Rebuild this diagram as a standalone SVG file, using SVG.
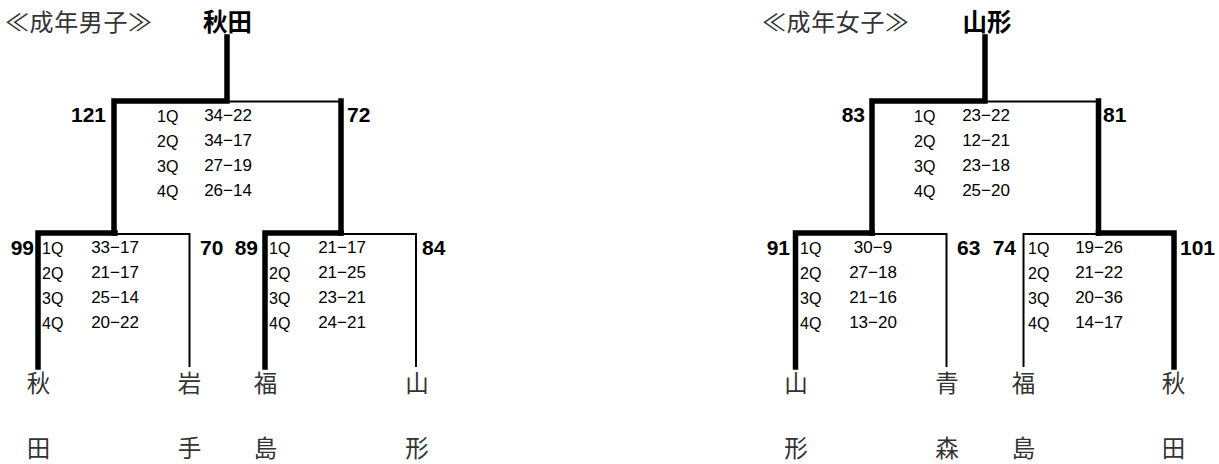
<svg xmlns="http://www.w3.org/2000/svg" width="1219" height="464" viewBox="0 0 1219 464">
<style>
.thick{stroke:#000;stroke-width:5.5;fill:none;stroke-linecap:square}
.thin{stroke:#000;stroke-width:2;fill:none}
.title{font-family:"Noto Sans CJK JP","Liberation Sans",sans-serif;font-size:24px;letter-spacing:0.6px;fill:#333}
.champ{font-family:"Noto Sans CJK JP","Liberation Sans",sans-serif;font-size:24.5px;font-weight:bold;fill:#000;text-anchor:middle}
.name{font-family:"Noto Sans CJK JP","Liberation Sans",sans-serif;font-size:23.5px;fill:#333;text-anchor:middle}
.pts{font-family:"Liberation Sans",Arial,sans-serif;font-size:21px;font-weight:bold;fill:#000}
.q{font-family:"Liberation Sans",Arial,sans-serif;font-size:16px;fill:#000}
.sc{font-family:"Liberation Sans",Arial,sans-serif;font-size:17px;fill:#000;text-anchor:middle}
.end{text-anchor:end}
</style>
<rect width="1219" height="464" fill="#fff"/>

<g id="connectors">
  <!-- men -->
  <path class="thin" d="M227 101.5 H341.5"/>
  <path class="thick" d="M227 37 V101 H114 V233 M341 101 V233"/>
  <path class="thin" d="M115 234 H189.5 V367"/>
  <path class="thick" d="M38 367 V233 H115 V233"/>
  <path class="thin" d="M342 234 H416 V367"/>
  <path class="thick" d="M265 367 V233 H341"/>
  <!-- women -->
  <path class="thin" d="M985 101.5 H1099"/>
  <path class="thick" d="M985 37 V101 H872 V233 M1098.5 101 V233"/>
  <path class="thin" d="M873 234 H946.5 V367"/>
  <path class="thick" d="M795.5 367 V233 H872"/>
  <path class="thin" d="M1098 234 H1023.5 V367"/>
  <path class="thick" d="M1174 367 V233 H1098.5"/>
</g>

<g id="men-title"><text class="title" x="5" y="31">≪成年男子≫</text></g>
<g id="men-champion"><text class="champ" x="227.5" y="31">秋田</text></g>

<g id="men-final">
  <text class="pts end" x="106" y="122">121</text>
  <text class="pts" x="347" y="122">72</text>
  <text class="q" x="157" y="122">1Q</text>
  <text class="q" x="157" y="147">2Q</text>
  <text class="q" x="157" y="172">3Q</text>
  <text class="q" x="157" y="197">4Q</text>
  <text class="sc" x="228" y="121">34−22</text>
  <text class="sc" x="228" y="146">34−17</text>
  <text class="sc" x="228" y="171">27−19</text>
  <text class="sc" x="228" y="196">26−14</text>
</g>

<g id="men-semi1">
  <text class="pts end" x="34" y="255">99</text>
  <text class="pts" x="200" y="255">70</text>
  <text class="q" x="42" y="254">1Q</text>
  <text class="q" x="42" y="279">2Q</text>
  <text class="q" x="42" y="304">3Q</text>
  <text class="q" x="42" y="329">4Q</text>
  <text class="sc" x="115" y="253">33−17</text>
  <text class="sc" x="115" y="278">21−17</text>
  <text class="sc" x="115" y="303">25−14</text>
  <text class="sc" x="115" y="328">20−22</text>
</g>

<g id="men-semi2">
  <text class="pts end" x="258" y="255">89</text>
  <text class="pts" x="422" y="255">84</text>
  <text class="q" x="269" y="254">1Q</text>
  <text class="q" x="269" y="279">2Q</text>
  <text class="q" x="269" y="304">3Q</text>
  <text class="q" x="269" y="329">4Q</text>
  <text class="sc" x="342" y="253">21−17</text>
  <text class="sc" x="342" y="278">21−25</text>
  <text class="sc" x="342" y="303">23−21</text>
  <text class="sc" x="342" y="328">24−21</text>
</g>

<g id="men-akita"><text class="name" x="38.5" y="392">秋</text><text class="name" x="38.5" y="457">田</text></g>
<g id="men-iwate"><text class="name" x="189.5" y="392">岩</text><text class="name" x="189.5" y="457">手</text></g>
<g id="men-fukushima"><text class="name" x="265.5" y="392">福</text><text class="name" x="265.5" y="457">島</text></g>
<g id="men-yamagata"><text class="name" x="417" y="392">山</text><text class="name" x="417" y="457">形</text></g>

<g id="women-title"><text class="title" x="762" y="31">≪成年女子≫</text></g>
<g id="women-champion"><text class="champ" x="987" y="31">山形</text></g>

<g id="women-final">
  <text class="pts end" x="865" y="122">83</text>
  <text class="pts" x="1103" y="122">81</text>
  <text class="q" x="914" y="122">1Q</text>
  <text class="q" x="914" y="147">2Q</text>
  <text class="q" x="914" y="172">3Q</text>
  <text class="q" x="914" y="197">4Q</text>
  <text class="sc" x="986" y="121">23−22</text>
  <text class="sc" x="986" y="146">12−21</text>
  <text class="sc" x="986" y="171">23−18</text>
  <text class="sc" x="986" y="196">25−20</text>
</g>

<g id="women-semi1">
  <text class="pts end" x="790" y="255">91</text>
  <text class="pts" x="957" y="255">63</text>
  <text class="q" x="800" y="254">1Q</text>
  <text class="q" x="800" y="279">2Q</text>
  <text class="q" x="800" y="304">3Q</text>
  <text class="q" x="800" y="329">4Q</text>
  <text class="sc" x="873" y="253">30−9</text>
  <text class="sc" x="873" y="278">27−18</text>
  <text class="sc" x="873" y="303">21−16</text>
  <text class="sc" x="873" y="328">13−20</text>
</g>

<g id="women-semi2">
  <text class="pts end" x="1016" y="255">74</text>
  <text class="pts" x="1180" y="255">101</text>
  <text class="q" x="1028" y="254">1Q</text>
  <text class="q" x="1028" y="279">2Q</text>
  <text class="q" x="1028" y="304">3Q</text>
  <text class="q" x="1028" y="329">4Q</text>
  <text class="sc" x="1099" y="253">19−26</text>
  <text class="sc" x="1099" y="278">21−22</text>
  <text class="sc" x="1099" y="303">20−36</text>
  <text class="sc" x="1099" y="328">14−17</text>
</g>

<g id="women-yamagata"><text class="name" x="796" y="392">山</text><text class="name" x="796" y="457">形</text></g>
<g id="women-aomori"><text class="name" x="947" y="392">青</text><text class="name" x="947" y="457">森</text></g>
<g id="women-fukushima"><text class="name" x="1023.5" y="392">福</text><text class="name" x="1023.5" y="457">島</text></g>
<g id="women-akita"><text class="name" x="1173.5" y="392">秋</text><text class="name" x="1173.5" y="457">田</text></g>
</svg>
